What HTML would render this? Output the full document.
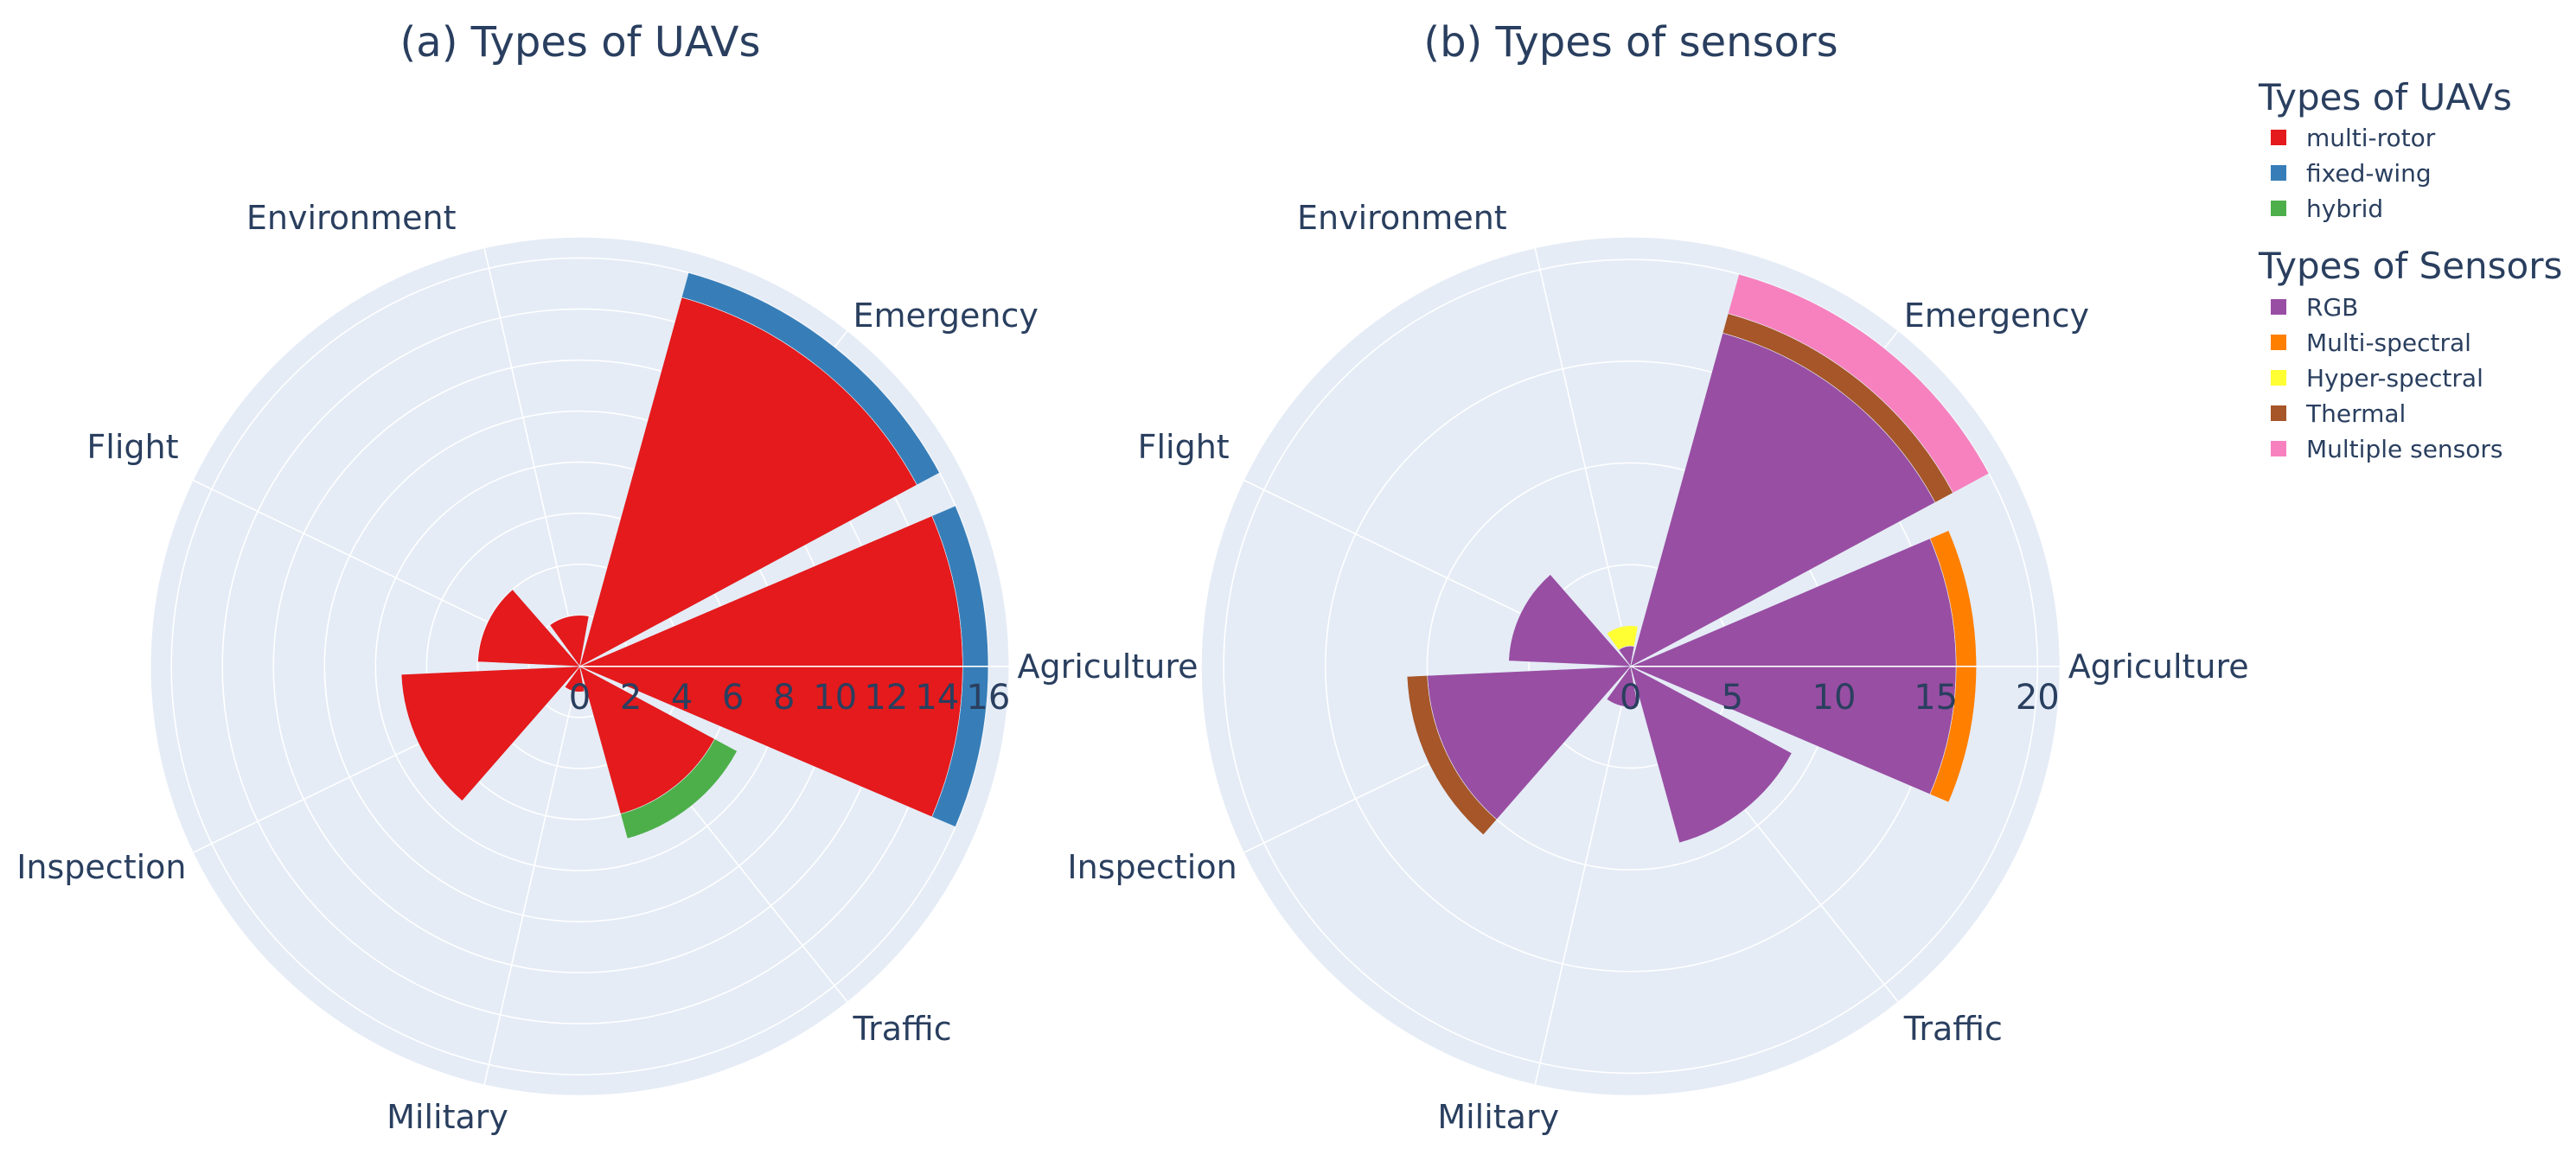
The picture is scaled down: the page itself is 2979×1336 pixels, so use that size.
<!DOCTYPE html>
<html><head><meta charset="utf-8"><style>
html,body{margin:0;padding:0;background:#fff;}
svg{display:block;font-family:"DejaVu Sans","Liberation Sans",sans-serif;}
</style></head><body>
<svg id="chart" width="2979" height="1336" viewBox="0 0 2979 1336" xmlns="http://www.w3.org/2000/svg">
<text x="671" y="65" text-anchor="middle" font-size="48" fill="#2a3f5f">(a) Types of UAVs</text>
<text x="1886" y="65" text-anchor="middle" font-size="48" fill="#2a3f5f">(b) Types of sensors</text>
<g id="p1"></g>
<g id="p2"></g>
<g font-size="28" fill="#2a3f5f">
<text x="2612" y="127" font-size="42">Types of UAVs</text>
<rect x="2626" y="150" width="18" height="18" fill="#e41a1c"/>
<text x="2667" y="169">multi-rotor</text>
<rect x="2626" y="191" width="18" height="18" fill="#377eb8"/>
<text x="2667" y="210">fixed-wing</text>
<rect x="2626" y="232" width="18" height="18" fill="#4daf4a"/>
<text x="2667" y="251">hybrid</text>
<text x="2612" y="322" font-size="42">Types of Sensors</text>
<rect x="2626" y="346" width="18" height="18" fill="#984ea3"/>
<text x="2667" y="365">RGB</text>
<rect x="2626" y="387" width="18" height="18" fill="#ff7f00"/>
<text x="2667" y="406">Multi-spectral</text>
<rect x="2626" y="428" width="18" height="18" fill="#ffff33"/>
<text x="2667" y="447">Hyper-spectral</text>
<rect x="2626" y="469" width="18" height="18" fill="#a65628"/>
<text x="2667" y="488">Thermal</text>
<rect x="2626" y="510" width="18" height="18" fill="#f781bf"/>
<text x="2667" y="529">Multiple sensors</text>
</g>
</svg>
<script>
const categories = ["Agriculture","Emergency","Environment","Flight","Inspection","Military","Traffic"];
const multiRotor = [15,15,2,4,7,1,6];
const fixedWing  = [1,1,0,0,0,0,0];
const hybrid     = [0,0,0,0,0,0,1];
const rgb        = [16,17,1,6,10,2,9];
const multiSpectral = [1,0,0,0,0,0,0];
const hyperSpectral = [0,0,1,0,0,0,0];
const thermal    = [0,1,0,0,1,0,0];
const multipleSensors = [0,2,0,0,0,0,0];
const ticksUav = [0,2,4,6,8,10,12,14,16];
const ticksSensor = [0,5,10,15,20];
const rangeUav = 16.8;
const rangeSensor = 21.08;

const NS = "http://www.w3.org/2000/svg";
const R = 496;
const labelPos = [[506,0,"start"],[316,-406,"start"],[-143,-519,"end"],[-464,-254,"end"],[-455,232,"end"],[-153,521,"middle"],[316,419,"start"]];
function mk(tag, attrs, parent){const e=document.createElementNS(NS,tag);for(const k in attrs)e.setAttribute(k,attrs[k]);parent.appendChild(e);return e;}
function pt(cx,cy,r,deg){const a=deg*Math.PI/180;return [cx+r*Math.cos(a),cy-r*Math.sin(a)];}
function wedge(cx,cy,r0,r1,a0,a1){
  const p1=pt(cx,cy,r1,a0),p2=pt(cx,cy,r1,a1),p3=pt(cx,cy,r0,a1),p4=pt(cx,cy,r0,a0);
  let d=`M${p4[0]},${p4[1]} L${p1[0]},${p1[1]} A${r1},${r1} 0 0 0 ${p2[0]},${p2[1]} L${p3[0]},${p3[1]}`;
  if(r0>0) d+=` A${r0},${r0} 0 0 1 ${p4[0]},${p4[1]}`;
  return d+"Z";
}
function polar(gid, cx, cy, range, ticks, series, names){
  const g=document.getElementById(gid);
  const rs=v=>v/range*R;
  const bg=mk("circle",{cx:cx,cy:cy,r:R,fill:"#e5ecf6"},g);
  
  
  ticks.forEach(t=>{if(t>0){const c=mk("circle",{cx:cx,cy:cy,r:rs(t),fill:"none",stroke:"#fff","stroke-width":1.6},g);
    
    }});
  const step=360/categories.length;
  categories.forEach((c,i)=>{const p=pt(cx,cy,R,i*step);const l=mk("line",{x1:cx,y1:cy,x2:p[0],y2:p[1],stroke:"#fff","stroke-width":1.6},g);
    
    });
  const half=step*0.9/2;
  const base=categories.map(()=>0);
  series.forEach((s,si)=>{
    s.vals.forEach((v,i)=>{
      if(v<=0)return;
      const a=i*step;
      const p=mk("path",{d:wedge(cx,cy,rs(base[i]),rs(base[i]+v),a-half,a+half),fill:s.color,stroke:"#e5ecf6","stroke-width":0.6},g);
      
      
      base[i]+=v;
    });
  });
  const ax=mk("line",{x1:cx,y1:cy,x2:cx+R,y2:cy,stroke:"#fff","stroke-width":1.6},g);
  
  
  ticks.forEach(t=>{const tx=mk("text",{x:cx+rs(t),y:cy+49,"text-anchor":"middle","font-size":40,fill:"#2a3f5f"},g);
    tx.textContent=String(t);
    
    });
  categories.forEach((c,i)=>{const lp=labelPos[i];const tx=mk("text",{x:cx+lp[0],y:cy+lp[1]+13,"text-anchor":lp[2],"font-size":38,fill:"#2a3f5f"},g);
    tx.textContent=c;
    
    });
}
polar("p1",670.5,770.8,rangeUav,ticksUav,[
  {vals:multiRotor,color:"#e41a1c"},{vals:fixedWing,color:"#377eb8"},{vals:hybrid,color:"#4daf4a"}],
  ["multi-rotor","fixed-wing","hybrid"]);
polar("p2",1885.7,770.8,rangeSensor,ticksSensor,[
  {vals:rgb,color:"#984ea3"},{vals:multiSpectral,color:"#ff7f00"},{vals:hyperSpectral,color:"#ffff33"},
  {vals:thermal,color:"#a65628"},{vals:multipleSensors,color:"#f781bf"}],
  ["rgb","multi-spectral","hyper-spectral","thermal","multiple-sensors"]);
</script>
</body></html>
